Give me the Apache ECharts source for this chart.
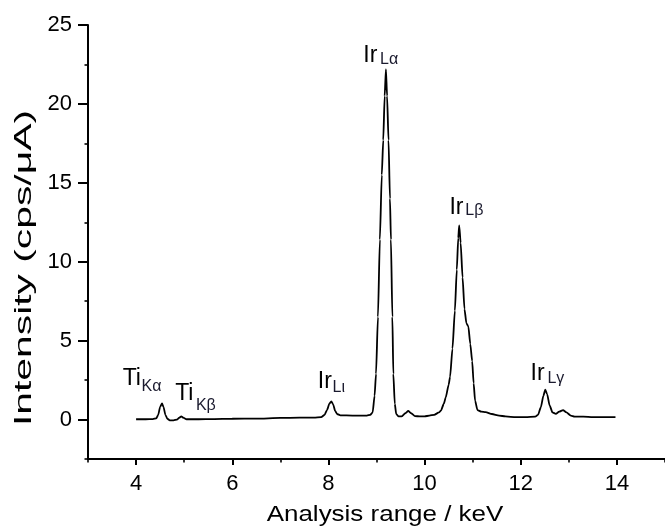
<!DOCTYPE html>
<html>
<head>
<meta charset="utf-8">
<script src="https://cdn.jsdelivr.net/npm/echarts@6/dist/echarts.min.js"></script>
<style>
html,body{margin:0;padding:0;background:#fff;}
#chart{width:665px;height:527px;}
</style>
</head>
<body>
<div id="chart"></div>
<script>
// Spectrum values (keV, cps/µA)
var energy = [4.00,4.20,4.35,4.42,4.46,4.50,4.54,4.57,4.61,4.65,4.70,4.78,4.85,4.90,4.94,4.98,5.05,5.30,5.60,6.00,6.50,7.00,7.40,7.70,7.85,7.92,7.97,8.02,8.06,8.10,8.14,8.18,8.25,8.50,8.80,8.87,8.92,8.96,8.99,9.03,9.07,9.11,9.14,9.17,9.196,9.22,9.25,9.28,9.30,9.33,9.35,9.38,9.41,9.46,9.52,9.60,9.66,9.72,9.80,9.90,10.00,10.10,10.20,10.30,10.34,10.40,10.44,10.50,10.53,10.58,10.63,10.67,10.70,10.72,10.75,10.79,10.83,10.87,10.91,10.95,10.99,11.02,11.05,11.10,11.18,11.27,11.40,11.55,11.68,11.90,12.10,12.30,12.36,12.42,12.47,12.51,12.55,12.60,12.66,12.73,12.80,12.88,12.95,13.04,13.12,13.30,13.50,13.70,13.97];
var intensity = [0.02,0.02,0.03,0.08,0.30,0.80,1.02,0.80,0.30,0.05,-0.05,-0.05,0.00,0.12,0.20,0.12,0.02,0.02,0.03,0.05,0.06,0.10,0.12,0.12,0.15,0.30,0.60,1.00,1.15,0.95,0.55,0.35,0.27,0.25,0.25,0.30,0.45,1.50,2.90,6.50,11.40,15.50,17.70,20.50,22.20,20.50,17.70,14.00,11.40,6.50,2.90,1.00,0.35,0.20,0.20,0.40,0.55,0.40,0.22,0.20,0.20,0.25,0.30,0.45,0.57,1.00,1.40,2.20,2.70,4.50,6.90,9.50,11.50,12.30,11.20,9.00,7.00,6.10,5.90,4.80,3.70,2.30,1.20,0.60,0.50,0.47,0.35,0.25,0.20,0.15,0.15,0.18,0.30,0.80,1.50,1.90,1.60,0.90,0.45,0.36,0.50,0.60,0.45,0.25,0.19,0.18,0.15,0.15,0.15];

var xMajorTicks = [4,6,8,10,12,14];
var xMinorTicks = [3,5,7,9,11,13,15];
var yMajorTicks = [0,5,10,15,20,25];
var yMinorTicks = [-2.5,2.5,7.5,12.5,17.5,22.5];

// Peak annotations: element symbol and line subscript, anchored in data units
var peakMain = [[3.721,2.57,'Ti'],[4.812,1.62,'Ti'],[7.778,2.41,'Ir'],[8.725,23.03,'Ir'],[10.516,13.42,'Ir'],[12.205,2.89,'Ir']];
var peakSub  = [[4.112,2.09,'Kα'],[5.245,0.89,'Kβ'],[8.086,2.00,'Lι'],[9.075,22.78,'Lα'],[10.846,13.23,'Lβ'],[12.555,2.60,'Lγ']];

var FONT = 'Liberation Sans, Arial, sans-serif';
var spectrum = energy.map(function(e,i){return [e,intensity[i]];});

function annotLabel(size, col){
  return {show:true, position:'inside', distance:0,
          formatter:function(p){return p.data[2];},
          fontSize:size, color:col, fontFamily:FONT, align:'left', verticalAlign:'middle',
          textBorderWidth:0, textBorderColor:'transparent', textShadowBlur:0, opacity:1};
}

var chart = echarts.init(document.getElementById('chart'), null, {renderer:'canvas'});
chart.setOption({
  backgroundColor:'#ffffff',
  animation:false,
  grid:{left:88, top:25, width:582.7, height:434, containLabel:false},
  xAxis:[{
    type:'value', min:3, max:15, position:'bottom',
    axisLine:{show:true, onZero:false, lineStyle:{color:'#000', width:2}},
    axisTick:{show:true, inside:false, length:6, customValues:xMajorTicks, lineStyle:{color:'#000', width:2}},
    axisLabel:{show:true, customValues:xMajorTicks, margin:14, fontSize:22, color:'#000', fontFamily:FONT},
    splitLine:{show:false}
  },{
    type:'value', min:3, max:15, position:'bottom',
    axisLine:{show:false, onZero:false},
    axisTick:{show:true, inside:false, length:3.5, customValues:xMinorTicks, lineStyle:{color:'#000', width:1.6}},
    axisLabel:{show:false},
    splitLine:{show:false}
  }],
  yAxis:[{
    type:'value', min:-2.5, max:25, position:'left',
    axisLine:{show:true, onZero:false, lineStyle:{color:'#000', width:2}},
    axisTick:{show:true, inside:false, length:10, customValues:yMajorTicks, lineStyle:{color:'#000', width:2}},
    axisLabel:{show:true, customValues:yMajorTicks, margin:16, fontSize:22, color:'#000', fontFamily:FONT},
    splitLine:{show:false}
  },{
    type:'value', min:-2.5, max:25, position:'left',
    axisLine:{show:false, onZero:false},
    axisTick:{show:true, inside:false, length:3.5, customValues:yMinorTicks, lineStyle:{color:'#000', width:1.6}},
    axisLabel:{show:false},
    splitLine:{show:false}
  }],
  graphic:[
    {type:'text', x:385, y:515, scaleX:1.18, scaleY:1,
     style:{text:'Analysis range / keV', fontSize:22, fontFamily:FONT, fill:'#000',
            textAlign:'center', textVerticalAlign:'middle', align:'center', verticalAlign:'middle'}},
    {type:'text', x:24, y:268, rotation:Math.PI/2, scaleX:1.7, scaleY:1,
     style:{text:'Intensity (cps/μA)', fontSize:24, fontFamily:FONT, fill:'#000',
            textAlign:'center', textVerticalAlign:'middle', align:'center', verticalAlign:'middle'}}
  ],
  series:[{
    type:'line', xAxisIndex:0, yAxisIndex:0,
    data:spectrum, showSymbol:false, symbol:'none',
    smooth:0.2, smoothMonotone:'x',
    lineStyle:{color:'#000', width:1.8},
    z:3
  },{
    type:'scatter', xAxisIndex:0, yAxisIndex:0,
    data:peakMain, symbolSize:0, silent:true, itemStyle:{opacity:1},
    label:annotLabel(23,'#000')
  },{
    type:'scatter', xAxisIndex:0, yAxisIndex:0,
    data:peakSub, symbolSize:0, silent:true, itemStyle:{opacity:1},
    label:annotLabel(16,'#1a1a2e')
  }]
});
</script>
</body>
</html>
